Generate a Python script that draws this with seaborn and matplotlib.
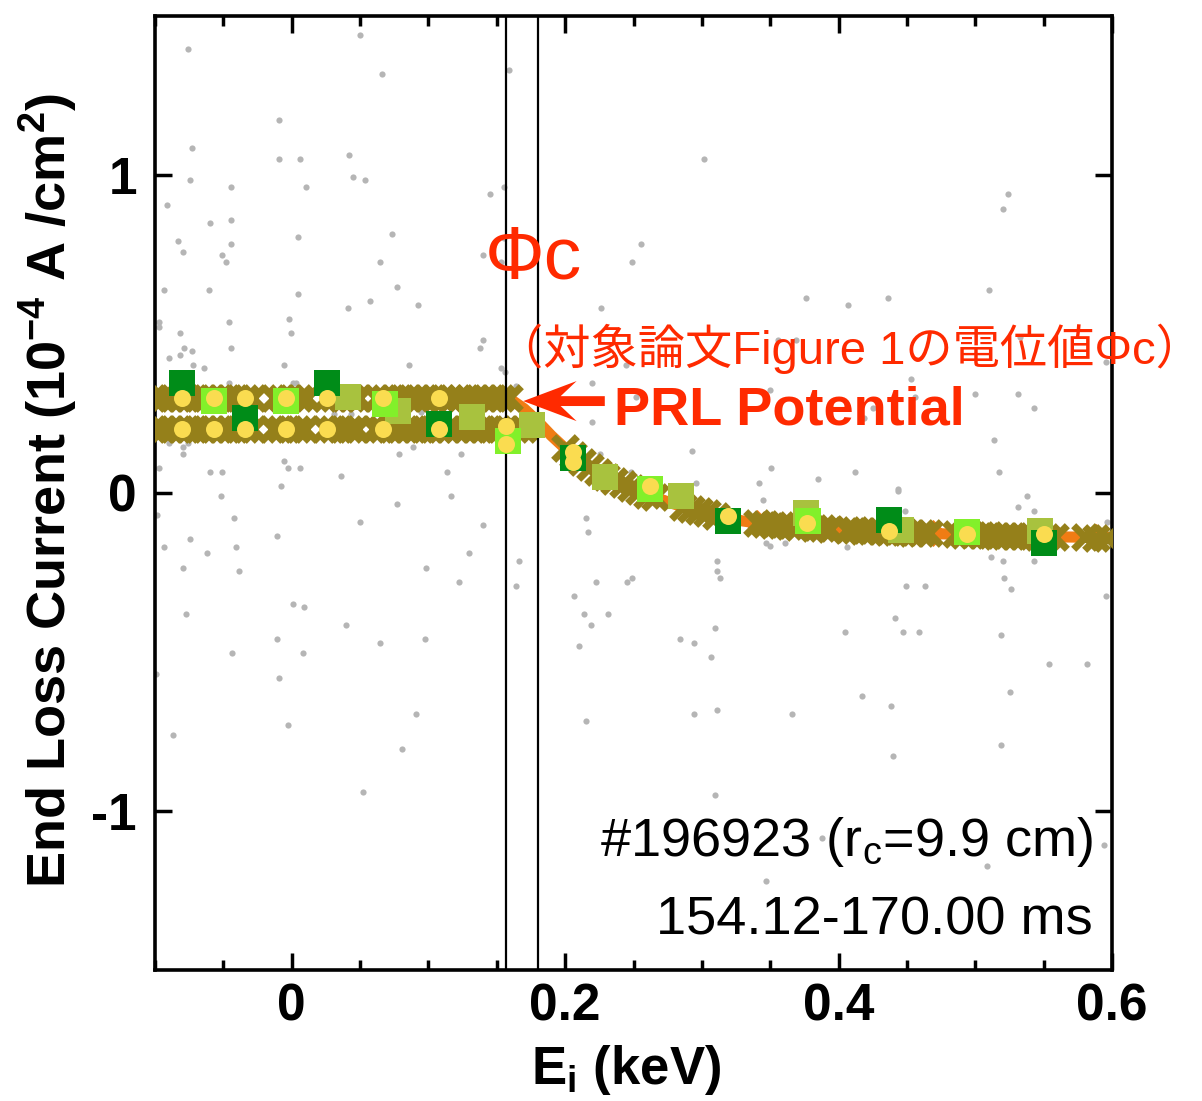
import matplotlib
matplotlib.use("Agg")
import matplotlib.pyplot as plt
import seaborn as sns
from matplotlib.ticker import MultipleLocator, FixedLocator

# ---------------- data ----------------
# faint grey background points
noise_x = [-0.0759, 0.0497, 0.0658, -0.0093, -0.0732, -0.0093, 0.0059, 0.0421, 0.0448, 0.0534,
           -0.0746, -0.0444, 0.0107, -0.0910, -0.0595, -0.0444, 0.0044, 0.0734, -0.0834, -0.0444,
           -0.0795, -0.0508, -0.0481, 0.0646, -0.0934, -0.0605, 0.0044, 0.0772, 0.0573, 0.0412,
           0.0924, -0.0971, -0.0971, -0.0459, -0.0018, -0.0819, -0.0005, -0.0786, -0.0444, -0.0819,
           -0.0732, -0.0895, -0.0720, -0.0644, -0.0054, 0.0860, -0.0459, 0.0010, 0.0034, 0.0309,
           0.0434, 0.0948, -0.0895, -0.0795, -0.0759, -0.0795, -0.0971, -0.0595, -0.0508, -0.0054,
           -0.0029, 0.0059, -0.0078, 0.0358, 0.0785, 0.0887, 0.1136, 0.1236,
           0.1590, 0.3016, 0.1448, 0.1551, 0.1551, 0.1399, 0.1533, 0.2553, 0.2489, 0.2265,
           0.1399, 0.1375, 0.1533, 0.1563, 0.1639, 0.2199, 0.2199, 0.2521, 0.2448, 0.2928,
           0.3504, 0.3418, 0.2955, 0.2482, 0.2253, 0.3557, 0.3497,
           0.5238, 0.5201, 0.3760, 0.4070, 0.4362, 0.5101, 0.5326, 0.3687, 0.4533, 0.4560,
           0.4998, 0.5313, 0.5428, 0.4252, 0.4187, 0.5138, 0.4121, 0.5176, 0.3848, 0.4437, 0.5955,
           -0.0517, -0.0983, -0.0420, 0.0497, 0.0772, 0.1163, -0.0744, -0.0105, -0.0934, -0.0620,
           -0.0405, 0.1297, -0.0795, -0.0383, 0.0985, 0.1224, 0.0007, 0.0092, -0.0771, 0.0395,
           -0.0105, 0.0646, 0.0973, -0.0435, 0.0083, -0.0990, -0.0093, 0.0909, -0.0029, -0.0870,
           0.0809, 0.0519,
           0.1399, 0.2155, 0.2167, 0.3445, 0.1663, 0.1639, 0.2226, 0.2453, 0.2489, 0.2065,
           0.2138, 0.2314, 0.2189, 0.2102, 0.2841, 0.2941, 0.3094, 0.3067, 0.3109, 0.3109,
           0.3133, 0.3467, 0.3497, 0.3609, 0.2941, 0.3109, 0.2155, 0.3094, 0.3467, 0.3662,
           0.4435, 0.5377, 0.5313, 0.5428, 0.5964, 0.4489, 0.4060, 0.5113, 0.5201, 0.5428,
           0.5211, 0.5262, 0.4496, 0.4635, 0.5955, 0.4411, 0.4045, 0.4472, 0.4587, 0.5187,
           0.5542, 0.5816, 0.4172, 0.4384, 0.5252, 0.5187, 0.4397, 0.3881, 0.5086, 0.5940]
noise_y = [1.397, 1.441, 1.318, 1.173, 1.084, 1.050, 1.050, 1.062, 0.993, 0.983,
           0.983, 0.962, 0.962, 0.905, 0.849, 0.860, 0.804, 0.816, 0.793, 0.782,
           0.759, 0.748, 0.726, 0.726, 0.637, 0.637, 0.625, 0.649, 0.604, 0.581,
           0.592, 0.537, 0.523, 0.537, 0.547, 0.503, 0.503, 0.457, 0.457, 0.435,
           0.446, 0.424, 0.403, 0.392, 0.403, 0.403, 0.347, 0.347, 0.347, 0.247,
           0.247, 0.255, 0.156, 0.144, 0.156, 0.122, 0.078, 0.066, 0.066, 0.102,
           0.078, 0.078, 0.022, 0.055, 0.122, 0.144, 0.066, 0.122,
           1.330, 1.050, 0.939, 0.962, 0.803, 0.749, 0.727, 0.782, 0.726, 0.581,
           0.481, 0.457, 0.392, 0.379, 0.337, 0.347, 0.224, 0.302, 0.403, 0.133,
           0.078, 0.033, 0.033, 0.066, 0.123, 0.482, 0.323,
           0.939, 0.893, 0.614, 0.592, 0.614, 0.637, 0.491, 0.481, 0.357, 0.302,
           0.312, 0.312, 0.266, 0.266, 0.235, 0.168, 0.066, 0.066, 0.044, 0.012, 0.413,
           -0.011, -0.068, -0.079, -0.090, -0.034, -0.011, -0.145, -0.135, -0.169, -0.190,
           -0.169, -0.190, -0.236, -0.246, -0.236, -0.281, -0.348, -0.358, -0.380, -0.414,
           -0.458, -0.471, -0.458, -0.503, -0.503, -0.570, -0.581, -0.694, -0.728, -0.761,
           -0.805, -0.940,
           -0.102, -0.079, -0.123, -0.023, -0.213, -0.291, -0.281, -0.281, -0.268, -0.324,
           -0.380, -0.380, -0.414, -0.481, -0.458, -0.471, -0.425, -0.515, -0.213, -0.246,
           -0.268, -0.158, -0.168, -0.158, -0.694, -0.682, -0.716, -0.950, -1.219, -0.694,
           0.005, -0.011, -0.045, -0.056, -0.090, -0.056, -0.169, -0.201, -0.213, -0.213,
           -0.268, -0.303, -0.291, -0.291, -0.324, -0.392, -0.436, -0.436, -0.436, -0.447,
           -0.538, -0.538, -0.638, -0.671, -0.625, -0.794, -0.828, -1.085, -1.174, -1.106]

# olive "x" traces: two flat bands below the potential, then the decaying branch
top_band_x = [-0.100, -0.094, -0.088, -0.082, -0.076, -0.070, -0.064, -0.058, -0.052, -0.046,
              -0.040, -0.034, -0.028, -0.013, -0.007, -0.001, 0.005, 0.011, 0.025, 0.031,
              0.037, 0.043, 0.049, 0.062, 0.068, 0.074, 0.080, 0.086, 0.092, 0.098,
              0.104, 0.110, 0.116, 0.123, 0.129, 0.135, 0.141, 0.147, 0.153, 0.159]
top_band_y = [0.299] * len(top_band_x)
bottom_band_x = [-0.100, -0.094, -0.088, -0.082, -0.076, -0.070, -0.064, -0.058, -0.052, -0.046,
                 -0.040, -0.034, -0.028, -0.014, -0.008, -0.002, 0.004, 0.010, 0.024, 0.030,
                 0.036, 0.042, 0.048, 0.060, 0.066, 0.072, 0.078, 0.084, 0.090, 0.096,
                 0.102, 0.108, 0.114, 0.121, 0.127, 0.133, 0.139, 0.145, 0.151, 0.157,
                 0.163, 0.169]
bottom_band_y = [0.200] * len(bottom_band_x)
branch_x = [0.200, 0.206, 0.212, 0.218, 0.224, 0.230, 0.236, 0.242, 0.248, 0.254,
            0.260, 0.266, 0.286, 0.292, 0.298, 0.304, 0.310, 0.340, 0.346, 0.352,
            0.358, 0.364, 0.370, 0.382, 0.388, 0.394, 0.406, 0.412, 0.418, 0.424,
            0.430, 0.436, 0.442, 0.448, 0.454, 0.460, 0.466, 0.486, 0.492, 0.498,
            0.504, 0.510, 0.516, 0.522, 0.528, 0.534, 0.540, 0.546, 0.552, 0.558,
            0.580, 0.588, 0.596]
branch_y = [0.140, 0.119, 0.099, 0.081, 0.066, 0.050, 0.038, 0.027, 0.016, 0.007,
            -0.005, -0.014, -0.043, -0.050, -0.058, -0.064, -0.071, -0.094, -0.097, -0.100,
            -0.102, -0.104, -0.107, -0.110, -0.111, -0.113, -0.115, -0.117, -0.118, -0.119,
            -0.121, -0.122, -0.123, -0.124, -0.125, -0.126, -0.127, -0.130, -0.131, -0.132,
            -0.133, -0.133, -0.134, -0.135, -0.135, -0.136, -0.136, -0.137, -0.137, -0.138,
            -0.139, -0.140, -0.140]

# orange fitted curve
fit_x = [0.160, 0.170, 0.180, 0.190, 0.200, 0.210, 0.220, 0.230, 0.240, 0.250, 0.260,
         0.270, 0.280, 0.290, 0.300, 0.310, 0.320, 0.330, 0.340, 0.350, 0.360, 0.380,
         0.400, 0.420, 0.440, 0.460, 0.480, 0.500, 0.520, 0.540, 0.560, 0.580, 0.600]
fit_y = [0.295, 0.265, 0.225, 0.180, 0.140, 0.105, 0.075, 0.050, 0.030, 0.012, -0.005,
         -0.020, -0.035, -0.048, -0.060, -0.071, -0.080, -0.088, -0.094, -0.099, -0.103, -0.109,
         -0.114, -0.118, -0.122, -0.126, -0.129, -0.132, -0.134, -0.136, -0.138, -0.139, -0.140]
fit_marker_x = [0.340, 0.401, 0.469, 0.588]
fit_marker_y = [-0.094, -0.114, -0.127, -0.139]

# square and circle series
dark_x = [-0.080, 0.026, -0.034, 0.108, 0.206, 0.319, 0.437, 0.550]
dark_y = [0.347, 0.347, 0.237, 0.218, 0.109, -0.089, -0.086, -0.158]
light_x = [-0.057, -0.004, 0.068, 0.158, 0.262, 0.378, 0.494]
light_y = [0.290, 0.290, 0.281, 0.162, 0.012, -0.089, -0.123]
olivesq_x = [0.041, 0.078, 0.132, 0.176, 0.229, 0.285, 0.376, 0.446, 0.547]
olivesq_y = [0.303, 0.259, 0.240, 0.215, 0.049, -0.010, -0.064, -0.117, -0.120]
circle_x = [-0.080, -0.057, -0.034, -0.004, 0.026, 0.067, 0.108,
            -0.080, -0.057, -0.034, -0.004, 0.026, 0.067, 0.108,
            0.157, 0.157, 0.206, 0.206, 0.262, 0.319, 0.377, 0.437, 0.494, 0.550]
circle_y = [0.299, 0.299, 0.299, 0.299, 0.299, 0.299, 0.299,
            0.200, 0.200, 0.200, 0.200, 0.200, 0.200, 0.200,
            0.212, 0.153, 0.128, 0.096, 0.021, -0.073, -0.095, -0.120, -0.129, -0.129]

# reference lines (keV) and tick labels
phi_lines = [0.1566, 0.1803]
x_ticks = [0.0, 0.2, 0.4, 0.6]
x_ticklabels = ["0", "0.2", "0.4", "0.6"]
y_ticks = [-1, 0, 1]
y_ticklabels = ["-1", "0", "1"]

# ---------------- style ----------------
sns.set_style("ticks")
plt.rcParams["font.family"] = ["Liberation Sans", "Noto Sans CJK JP", "DejaVu Sans"]
plt.rcParams["mathtext.fontset"] = "custom"
plt.rcParams["mathtext.rm"] = "Liberation Sans"
plt.rcParams["mathtext.bf"] = "Liberation Sans:bold"
plt.rcParams["mathtext.it"] = "Liberation Sans:italic"
plt.rcParams["axes.unicode_minus"] = False
plt.rcParams["text.color"] = "black"
plt.rcParams["axes.labelcolor"] = "black"
plt.rcParams["xtick.color"] = "black"
plt.rcParams["ytick.color"] = "black"

RED = "#ff2a00"
OLIVE = "#95801a"
ORANGE = "#f07c14"

fig = plt.figure(figsize=(12.02, 11.01), dpi=100)
ax = fig.add_axes([155 / 1202, 1 - 970 / 1101, 957 / 1202, 954 / 1101])

sns.scatterplot(x=noise_x, y=noise_y, color="#b5b5b5", s=20, linewidth=0, ax=ax, zorder=1)

sns.lineplot(x=fit_x, y=fit_y, sort=False, estimator=None, color=ORANGE, linewidth=8,
             ax=ax, zorder=2)
sns.scatterplot(x=fit_marker_x, y=fit_marker_y, marker="D", s=190, color=ORANGE,
                linewidth=0, ax=ax, zorder=2.1)

for bx, by in [(top_band_x, top_band_y), (bottom_band_x, bottom_band_y), (branch_x, branch_y)]:
    sns.scatterplot(x=bx, y=by, marker="x", s=290, linewidth=5.2, color=OLIVE, ax=ax, zorder=3)

for xv in phi_lines:
    ax.axvline(xv, color="black", lw=1.6, zorder=3.5)

sns.scatterplot(x=olivesq_x, y=olivesq_y, marker="s", s=330, color="#a8c23e", linewidth=0,
                ax=ax, zorder=4)
sns.scatterplot(x=dark_x, y=dark_y, marker="s", s=330, color="#008c18", linewidth=0,
                ax=ax, zorder=5)
sns.scatterplot(x=light_x, y=light_y, marker="s", s=330, color="#82f02a", linewidth=0,
                ax=ax, zorder=6)
sns.scatterplot(x=circle_x, y=circle_y, marker="o", s=150, color="#fadc50", linewidth=0,
                ax=ax, zorder=7)

# ---------------- axes ----------------
ax.set_xlim(-0.1, 0.6)
ax.set_ylim(-1.5, 1.5)
ax.xaxis.set_major_locator(FixedLocator(x_ticks))
ax.xaxis.set_minor_locator(MultipleLocator(0.05))
ax.yaxis.set_major_locator(FixedLocator(y_ticks))
ax.set_xticklabels(x_ticklabels, fontsize=37, fontweight="bold")
ax.set_yticklabels(y_ticklabels, fontsize=37, fontweight="bold")
ax.tick_params(which="both", direction="in", top=True, right=True, width=2.5, colors="black")
ax.tick_params(which="major", length=12)
ax.tick_params(axis="x", which="major", pad=9)
ax.tick_params(axis="y", which="major", pad=13)
ax.tick_params(which="minor", length=7)
for s in ax.spines.values():
    s.set_linewidth(2.6)
    s.set_color("black")

ax.set_xlabel(r"E$_{\mathbf{i}}$ (keV)", fontsize=38, fontweight="bold")
ax.xaxis.set_label_coords(0.492, -0.0765)
ax.set_ylabel(r"End Loss Current (10$^{\mathbf{-4}}$ A /cm$^{\mathbf{2}}$)", fontsize=39,
              fontweight="bold")
ax.yaxis.set_label_coords(-0.079, 0.5026)

# ---------------- annotations ----------------
ax.text(0.1410, 0.676, "Φc", fontsize=54, color=RED, ha="left", va="baseline", zorder=9)
ax.text(0.1497, 0.406, "（対象論文Figure 1の電位値Φc）", fontsize=34, color=RED,
        family=["Liberation Sans", "Noto Sans CJK JP"], ha="left", va="baseline", zorder=9)
ax.text(0.2355, 0.215, "PRL Potential", fontsize=39, fontweight="bold", color=RED,
        ha="left", va="baseline", zorder=9)
ax.arrow(0.229, 0.289, 0.1694 - 0.229, 0, width=0.031, head_width=0.126, head_length=0.039,
         overhang=0.3, length_includes_head=True, color=RED, lw=0, zorder=9)

ax.text(0.980, 0.1195, r"#196923 (r$_{\mathrm{c}}$=9.9 cm)", transform=ax.transAxes,
        fontsize=39, ha="right", va="baseline", color="black", zorder=9)
ax.text(0.980, 0.0367, "154.12-170.00 ms", transform=ax.transAxes,
        fontsize=39, ha="right", va="baseline", color="black", zorder=9)

fig.savefig("out.png", dpi=100)
